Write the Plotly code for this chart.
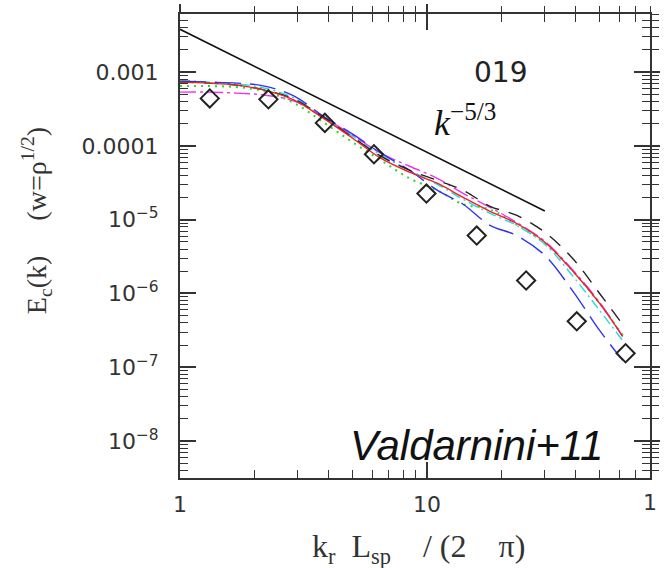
import plotly.graph_objects as go

# ---- data ----
k_grid = [1, 1.3, 1.7, 2.2, 2.9, 3.8, 5, 6.5, 8.5, 11, 14, 18, 23, 30, 39, 50, 62]

E_red = [7.32e-4, 7.09e-4, 6.66e-4, 5.70e-4, 4.17e-4, 2.38e-4, 1.27e-4, 6.81e-5, 4.40e-5,
         3.12e-5, 2.01e-5, 1.30e-5, 8.95e-6, 4.95e-6, 2.00e-6, 7.34e-7, 2.62e-7]
E_black = [7.32e-4, 7.09e-4, 6.66e-4, 5.70e-4, 4.30e-4, 2.45e-4, 1.31e-4, 7.25e-5, 4.68e-5,
           3.42e-5, 2.51e-5, 1.52e-5, 1.15e-5, 6.75e-6, 2.95e-6, 1.00e-6, 3.80e-7]
E_blue = [7.55e-4, 7.32e-4, 7.09e-4, 6.46e-4, 4.72e-4, 2.53e-4, 1.44e-4, 7.96e-5, 4.68e-5,
          2.51e-5, 1.62e-5, 8.39e-6, 6.14e-6, 3.29e-6, 1.07e-6, 3.16e-7, 1.24e-7]
E_cyan = [7.79e-4, 7.32e-4, 6.87e-4, 6.07e-4, 4.44e-4, 2.45e-4, 1.35e-4, 7.48e-5, 4.68e-5,
          3.02e-5, 1.89e-5, 1.22e-5, 8.39e-6, 4.65e-6, 1.71e-6, 5.90e-7, 2.31e-7]
E_green = [6.46e-4, 6.46e-4, 6.26e-4, 5.52e-4, 3.80e-4, 2.10e-4, 1.12e-4, 6.40e-5, 3.64e-5,
           2.51e-5, 1.62e-5, 1.38e-5, 8.66e-6, 4.80e-6, 2.00e-6, 7.34e-7, 2.70e-7]
E_magenta = [5.35e-4, 5.35e-4, 5.19e-4, 4.87e-4, 4.04e-4, 2.45e-4, 1.40e-4, 7.96e-5, 5.30e-5,
             3.64e-5, 2.28e-5, 1.47e-5, 9.22e-6, 5.10e-6, 2.06e-6, 7.57e-7, 2.62e-7]

k_obs = [1.32, 2.28, 3.86, 6.10, 9.95, 15.9, 25.2, 40.4, 63.7]
E_obs = [4.4e-4, 4.27e-4, 2.05e-4, 7.7e-5, 2.26e-5, 6.1e-6, 1.5e-6, 4.2e-7, 1.55e-7]

k_ref = [1, 30]
E_ref = [3.8e-3, 1.31e-5]

x_major = [1, 10]
x_major_text = ["1", "10"]
x_minor = [2, 3, 4, 5, 6, 7, 8, 9, 20, 30, 40, 50, 60, 70, 80]
y_major = [1e-3, 1e-4, 1e-5, 1e-6, 1e-7, 1e-8]
y_major_text = ["0.001", "0.0001", "10<sup>−5</sup>", "10<sup>−6</sup>",
                "10<sup>−7</sup>", "10<sup>−8</sup>"]
y_minor = [m * 10.0 ** e for e in range(-9, -1) for m in range(2, 10)]

X_RANGE = [0, 1.903]
Y_RANGE = [-8.5, -2.213]

fig = go.Figure()

styles = [
    (E_green, "#22dd22", "2px,5px", 2.0),
    (E_cyan, "#22dddd", "10px,4px,2px,4px", 1.4),
    (E_magenta, "#ee33ee", "16px,4px,3px,4px", 1.4),
    (E_blue, "#3333ee", "26px,9px", 1.4),
    (E_black, "#222222", "14px,10px", 1.4),
    (E_red, "#ee2222", "solid", 1.4),
]
for E, col, dash, w in styles:
    fig.add_trace(go.Scatter(x=k_grid, y=E, mode="lines",
                             line=dict(color=col, dash=dash, width=w, shape="spline",
                                       smoothing=1.0),
                             showlegend=False))

fig.add_trace(go.Scatter(x=k_ref, y=E_ref, mode="lines",
                         line=dict(color="#111111", width=1.6), showlegend=False))

fig.add_trace(go.Scatter(x=k_obs, y=E_obs, mode="markers",
                         marker=dict(symbol="diamond-open", size=14, color="#222222",
                                     line=dict(width=2, color="#222222")),
                         showlegend=False))

# invisible trace for the outward-tick overlay axes
fig.add_trace(go.Scatter(x=[2], y=[1e-5], xaxis="x2", yaxis="y2", mode="markers",
                         marker=dict(opacity=0), showlegend=False, hoverinfo="skip"))

tickfont = dict(family="DejaVu Sans", size=22, color="#333333")
axcol = "#333333"

fig.update_layout(
    width=665, height=568,
    margin=dict(l=180, r=15, t=14, b=90, autoexpand=False),
    paper_bgcolor="white", plot_bgcolor="white",
    xaxis=dict(type="log", range=X_RANGE, showgrid=False, zeroline=False, automargin=False,
               showline=True, linecolor=axcol, linewidth=2, mirror="ticks",
               ticks="inside", ticklen=16, tickwidth=1.5, tickcolor=axcol,
               tickmode="array", tickvals=x_major, ticktext=x_major_text,
               tickfont=tickfont, ticklabelstandoff=6,
               minor=dict(tickmode="array", tickvals=x_minor, ticks="inside",
                          ticklen=8, tickwidth=1.2, tickcolor=axcol, showgrid=False)),
    yaxis=dict(type="log", range=Y_RANGE, showgrid=False, zeroline=False, automargin=False,
               showline=True, linecolor=axcol, linewidth=2, mirror="ticks",
               ticks="inside", ticklen=16, tickwidth=1.5, tickcolor=axcol,
               tickmode="array", tickvals=y_major, ticktext=y_major_text,
               tickfont=tickfont, ticklabelstandoff=15,
               minor=dict(tickmode="array", tickvals=y_minor, ticks="inside",
                          ticklen=8, tickwidth=1.2, tickcolor=axcol, showgrid=False)),
    xaxis2=dict(type="log", range=X_RANGE, overlaying="x", side="top", automargin=False,
                showgrid=False, zeroline=False, showline=False,
                ticks="outside", ticklen=9, tickwidth=1.5, tickcolor=axcol,
                tickmode="array", tickvals=x_major, showticklabels=False,
                minor=dict(tickmode="array", tickvals=x_minor, ticks="outside",
                           ticklen=7, tickwidth=1.2, tickcolor=axcol)),
    yaxis2=dict(type="log", range=Y_RANGE, overlaying="y", side="right", automargin=False,
                showgrid=False, zeroline=False, showline=False,
                ticks="outside", ticklen=9, tickwidth=1.5, tickcolor=axcol,
                tickmode="array", tickvals=y_major, showticklabels=False,
                minor=dict(tickmode="array", tickvals=y_minor, ticks="outside",
                           ticklen=8, tickwidth=1.2, tickcolor=axcol)),
)

NB = "\u00a0"
serif = "Liberation Serif"
fig.add_annotation(text=f"k<sub>r</sub>{NB*2}L<sub>sp</sub>{NB*4}/{NB}(2{NB*4}π)",
                   xref="paper", yref="paper",
                   x=0.507, y=-0.151, xanchor="center", yanchor="middle", showarrow=False,
                   font=dict(family=serif, size=32, color="#333333"))
fig.add_annotation(text=f"E<sub>c</sub>(k){NB*5}(w=ρ<sup>1/2</sup>)", xref="paper", yref="paper",
                   x=-0.305, y=0.555, xanchor="center", yanchor="middle", showarrow=False,
                   textangle=-90, font=dict(family=serif, size=28, color="#333333"))
fig.add_annotation(text="019", xref="paper", yref="paper", x=0.681, y=0.875,
                   xanchor="center", yanchor="middle", showarrow=False,
                   font=dict(family="DejaVu Sans", size=28, color="#222222"))
fig.add_annotation(text="<i>k</i><sup>−5/3</sup>", xref="paper", yref="paper",
                   x=0.536, y=0.77, xanchor="left", yanchor="middle", showarrow=False,
                   font=dict(family=serif, size=36, color="#111111"))
fig.add_annotation(text="<i>Valdarnini+11</i>", xref="paper", yref="paper",
                   x=0.63, y=0.069, xanchor="center", yanchor="middle", showarrow=False,
                   font=dict(family="Liberation Sans", size=42, color="#111111"))
fig.add_annotation(text="1", xref="paper", yref="paper", x=1.0, y=-0.052,
                   xanchor="center", yanchor="middle", showarrow=False,
                   font=tickfont)

fig.write_html("out.html")
